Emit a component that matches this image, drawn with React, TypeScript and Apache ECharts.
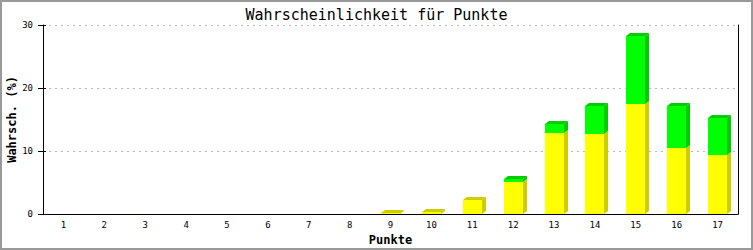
import React, { useEffect, useRef } from "react";
import * as echarts from "echarts";

const categories = ["1", "2", "3", "4", "5", "6", "7", "8", "9", "10", "11", "12", "13", "14", "15", "16", "17"];
const yellowValues = [0, 0, 0, 0, 0, 0, 0, 0, 0.16, 0.32, 2.2, 5.1, 12.9, 12.75, 17.45, 10.4, 9.4];
const greenValues = [0, 0, 0, 0, 0, 0, 0, 0, 0, 0, 0, 0.45, 1.4, 4.4, 10.85, 6.75, 5.85];
const yTicks = { min: 0, max: 30, interval: 10 };

const FONT = "DejaVu Sans Mono";

export default function App() {
  const ref = useRef<HTMLDivElement>(null);
  useEffect(() => {
    if (!ref.current) return;
    const chart = echarts.init(ref.current, undefined, { renderer: "svg" });
    const data = categories.map((_, i) => [i, yellowValues[i], greenValues[i]]);
    const dx = 4;
    const dy = 3;
    const renderItem = (params: any, api: any) => {
      const idx = api.value(0);
      const yv = api.value(1);
      const gv = api.value(2);
      const base = api.coord([idx, 0]);
      const w = Math.round(api.size([1, 0])[0] * 0.465);
      const x0 = Math.round(base[0] - w / 2);
      const x1 = x0 + w;
      const yb = Math.round(base[1]);
      const children: any[] = [];
      const seg = (bottomVal: number, topVal: number, front: string, dark: string, drawTop: boolean) => {
        const yBot = bottomVal === 0 ? yb : Math.round(api.coord([idx, bottomVal])[1]);
        const yTop = Math.round(api.coord([idx, topVal])[1]);
        children.push({
          type: "rect",
          shape: { x: x0, y: yTop, width: w, height: Math.max(yBot - yTop, 0) },
          style: { fill: front },
        });
        children.push({
          type: "polygon",
          shape: { points: [[x1, yBot], [x1 + dx, yBot - dy], [x1 + dx, yTop - dy], [x1, yTop]] },
          style: { fill: dark },
        });
        if (drawTop) {
          children.push({
            type: "polygon",
            shape: { points: [[x0, yTop], [x0 + dx, yTop - dy], [x1 + dx, yTop - dy], [x1, yTop]] },
            style: { fill: dark },
          });
        }
      };
      if (yv > 0) seg(0, yv, "#ffff00", "#cccc00", !(gv > 0));
      if (gv > 0) seg(yv, yv + gv, "#00ff00", "#00cc00", true);
      return { type: "group", children };
    };
    chart.setOption({
      animation: false,
      backgroundColor: "#ffffff",
      title: {
        text: "Wahrscheinlichkeit für Punkte",
        left: "center",
        top: 2,
        textStyle: { fontFamily: FONT, fontSize: 15, fontWeight: "normal", color: "#000" },
      },
      grid: { left: 43, right: 15, top: 25, bottom: 36, containLabel: false, outerBoundsMode: "none" },
      xAxis: {
        type: "category",
        data: categories,
        boundaryGap: true,
        name: "Punkte",
        nameLocation: "middle",
        nameGap: 20,
        nameMoveOverlap: false,
        nameTextStyle: { fontFamily: FONT, fontSize: 12, fontWeight: "bold", color: "#000" },
        axisLine: { show: true, lineStyle: { color: "#000", width: 1 } },
        axisTick: { show: false },
        axisLabel: { fontFamily: FONT, fontSize: 9, color: "#000", margin: 6, interval: 0 },
        splitLine: { show: false },
      },
      yAxis: [
        {
          type: "value",
          ...yTicks,
          name: "Wahrsch. (%)",
          nameLocation: "middle",
          nameGap: 25,
          nameMoveOverlap: false,
          nameTextStyle: { fontFamily: FONT, fontSize: 12, fontWeight: "bold", color: "#000" },
          axisLine: { show: true, lineStyle: { color: "#000", width: 1 } },
          axisTick: { show: true, length: 5, lineStyle: { color: "#000" } },
          axisLabel: { fontFamily: FONT, fontSize: 9, color: "#000", margin: 10 },
          splitLine: { show: true, lineStyle: { color: "#bbbbbb", type: [2, 4], width: 1 } },
        },
        {
          type: "value",
          ...yTicks,
          position: "left",
          offset: 0,
          axisLine: { show: false },
          axisTick: { show: true, inside: true, length: 3, lineStyle: { color: "#000" } },
          axisLabel: { show: false },
          splitLine: { show: false },
        },
        {
          type: "value",
          ...yTicks,
          position: "right",
          axisLine: { show: true, lineStyle: { color: "#000", width: 1 } },
          axisTick: { show: false },
          axisLabel: { show: false },
          splitLine: { show: false },
        },
      ],
      graphic: [
        {
          type: "rect",
          shape: { x: 1, y: 1, width: 751, height: 248 },
          style: { fill: "none", stroke: "#999999", lineWidth: 2 },
          silent: true,
        },
      ],
      series: [
        {
          type: "custom",
          renderItem,
          data,
          encode: { x: 0, y: [1, 2] },
          xAxisIndex: 0,
          yAxisIndex: 0,
        },
      ],
    });
    return () => chart.dispose();
  }, []);
  return <div ref={ref} style={{ position: "absolute", left: 0, top: 0, width: 753, height: 250 }} />;
}
